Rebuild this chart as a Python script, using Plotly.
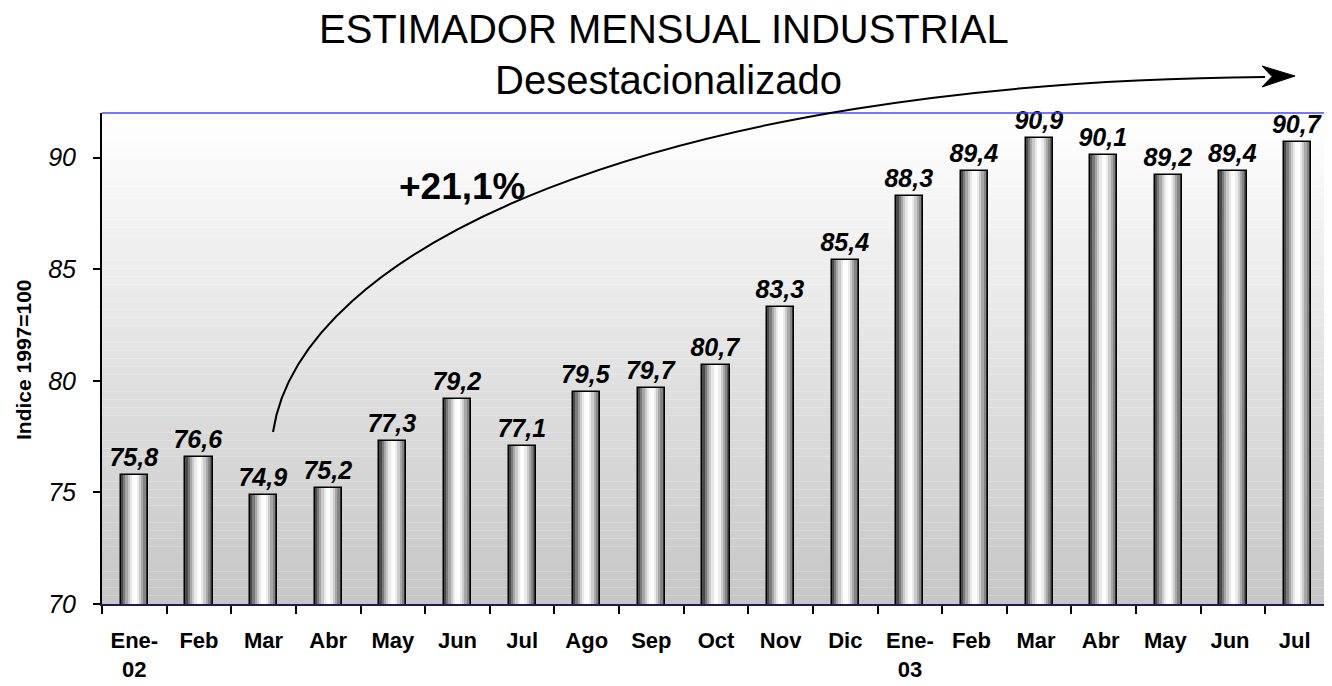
import plotly.graph_objects as go

# ---- data ----
months = ["Ene-<br>02", "Feb", "Mar", "Abr", "May", "Jun", "Jul", "Ago", "Sep", "Oct",
          "Nov", "Dic", "Ene-<br>03", "Feb ", "Mar ", "Abr ", "May ", "Jun ", "Jul "]
values = [75.8, 76.6, 74.9, 75.2, 77.3, 79.2, 77.1, 79.5, 79.7, 80.7,
          83.3, 85.4, 88.3, 89.4, 90.9, 90.1, 89.2, 89.4, 90.7]
y_ticks = [70, 75, 80, 85, 90]
labels = [f"{v:.1f}".replace(".", ",") for v in values]

FONT = "Liberation Sans, Arial, sans-serif"
BAR_W = 0.42
stripe_colors = ["#4a4a4a", "#7a7a7a", "#a6a6a6", "#cacaca", "#e8e8e8", "#fbfbfb",
                 "#ffffff", "#ececec", "#cccccc", "#a8a8a8", "#848484", "#5c5c5c"]

# page offset (browser body margin)
OFF = 8
W, H = 1332 - OFF, 686 - OFF

fig = go.Figure()
n = len(stripe_colors)
sw = BAR_W / n
for i, c in enumerate(stripe_colors):
    fig.add_trace(go.Bar(x=months, y=values, width=sw, offset=-BAR_W / 2 + i * sw,
                         marker=dict(color=c, line=dict(width=0)),
                         hoverinfo="skip", showlegend=False))
# outline + labels
fig.add_trace(go.Bar(x=months, y=values, width=BAR_W, offset=-BAR_W / 2,
                     marker=dict(color="rgba(0,0,0,0)", line=dict(color="black", width=1.5)),
                     text=labels, textposition="outside", cliponaxis=False,
                     constraintext="none",
                     textfont=dict(family=FONT, size=25, color="black",
                                   weight="bold", style="italic"),
                     showlegend=False))

shapes = []
# background gradient (white top -> gray bottom)
N = 60
for k in range(N):
    t = (k + 0.5) / N
    g = int(round(198 + (255 - 198) * t))
    shapes.append(dict(type="rect", xref="x domain", yref="y domain",
                       x0=0, x1=1, y0=k / N, y1=(k + 1) / N, layer="below",
                       line=dict(width=0), fillcolor=f"rgb({g},{g},{g})"))
# top blue line
shapes.append(dict(type="line", xref="x domain", yref="y domain", x0=0, x1=1.01,
                   y0=1, y1=1, line=dict(color="#4848ff", width=1.5), layer="above"))

# curved arrow in paper coordinates (page pixel -> paper)
L, R, T, B = 102, 1330, 113, 604
def px(x): return (x - L) / (R - L)
def py(y): return (B - y) / (B - T)
p0, p1, p2, p3 = (273, 432), (300, 250), (650, 82), (1265, 77)
path = (f"M {px(p0[0])},{py(p0[1])} C {px(p1[0])},{py(p1[1])} "
        f"{px(p2[0])},{py(p2[1])} {px(p3[0])},{py(p3[1])}")
shapes.append(dict(type="path", xref="paper", yref="paper", path=path,
                   line=dict(color="black", width=2)))
head = (f"M {px(1295)},{py(76)} L {px(1262)},{py(66)} L {px(1272)},{py(76.5)} "
        f"L {px(1262)},{py(87)} Z")
shapes.append(dict(type="path", xref="paper", yref="paper", path=head,
                   fillcolor="black", line=dict(color="black", width=1)))

annotations = [
    dict(text="ESTIMADOR MENSUAL INDUSTRIAL", xref="paper", yref="paper",
         x=px(664), y=py(29), xanchor="center", yanchor="middle", showarrow=False,
         font=dict(family=FONT, size=40, color="black")),
    dict(text="Desestacionalizado", xref="paper", yref="paper",
         x=px(668), y=py(80), xanchor="center", yanchor="middle", showarrow=False,
         font=dict(family=FONT, size=40, color="black")),
    dict(text="+21,1%", xref="paper", yref="paper", x=px(462), y=py(186),
         xanchor="center", yanchor="middle",
         showarrow=False, font=dict(family=FONT, size=37, color="black", weight="bold")),
    dict(text="Indice 1997=100", xref="paper", yref="paper", x=px(23), y=py(360),
         xanchor="center", yanchor="middle",
         textangle=-90, showarrow=False,
         font=dict(family=FONT, size=21, color="black", weight="bold")),
]

fig.update_layout(
    width=W, height=H,
    margin=dict(l=L - OFF, r=1332 - R, t=T - OFF, b=686 - B, autoexpand=False),
    barmode="overlay", bargap=0,
    plot_bgcolor="white", paper_bgcolor="white",
    shapes=shapes, annotations=annotations,
    font=dict(family=FONT, color="black"),
    showlegend=False,
)
fig.update_xaxes(type="category", tickson="boundaries", ticks="outside", ticklen=8,
                 tickcolor="black", tickwidth=1.5, showline=True, linecolor="#1c1c5a",
                 linewidth=2, showgrid=False, zeroline=False,
                 tickfont=dict(family=FONT, size=22, color="black", weight="bold"),
                 ticklabelstandoff=16)
fig.update_yaxes(range=[70, 92], tickvals=y_ticks, ticks="outside", ticklen=7,
                 tickcolor="black", tickwidth=1.5, showline=True, linecolor="black",
                 linewidth=2, showgrid=False, zeroline=False,
                 tickfont=dict(family=FONT, size=25, color="black", style="italic"),
                 ticklabelstandoff=12)

fig.write_html("out.html")
